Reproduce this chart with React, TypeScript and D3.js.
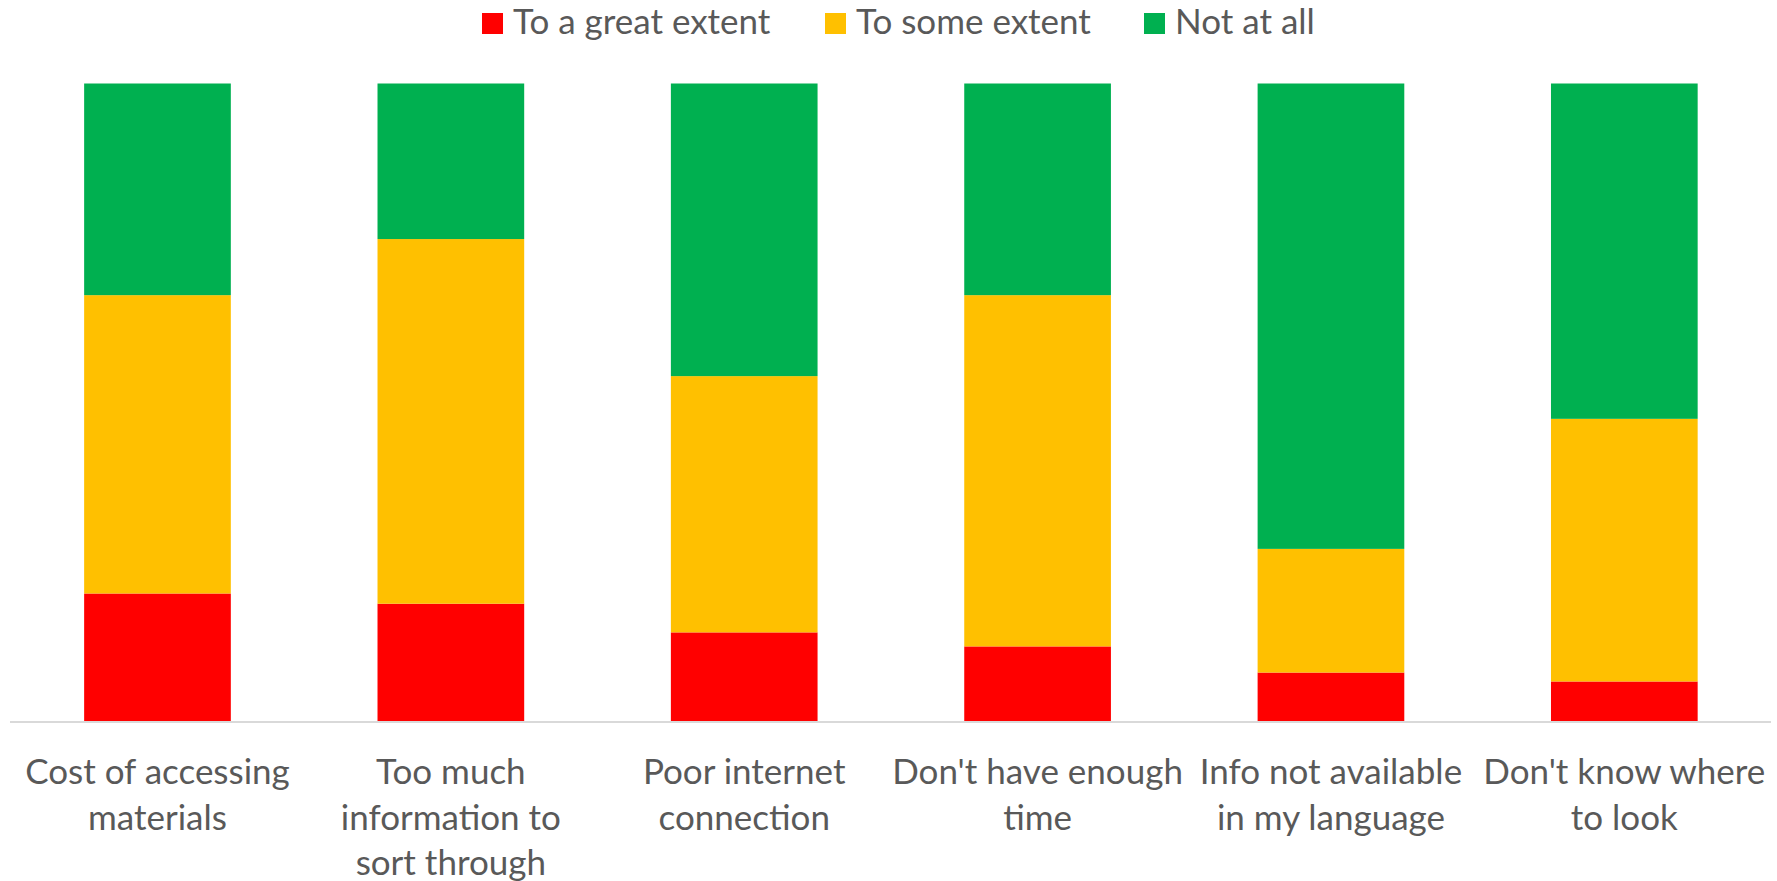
import React from 'react';
import * as d3 from 'd3';

const categories = [
    ['Cost of accessing', 'materials'],
    ['Too much', 'information to', 'sort through'],
    ['Poor internet', 'connection'],
    ["Don't have enough", 'time'],
    ['Info not available', 'in my language'],
    ["Don't know where", 'to look'],
];

const seriesNames = ['To a great extent', 'To some extent', 'Not at all'];
const seriesColors = ['#FF0000', '#FFC000', '#00B050'];

// percentages
const greatExtent = [20.0, 18.4, 13.9, 11.7, 7.6, 6.2];
const someExtent = [46.8, 57.2, 40.2, 55.1, 19.4, 41.2];
const notAtAll = [33.2, 24.4, 45.9, 33.2, 73.0, 52.6];

const W = 1777;
const H = 881;
const FONT = 'Lato, "Open Sans", sans-serif';

export default function App() {
    const keys = categories.map((c) => c.join(' '));
    const rows = keys.map((k, i) => ({
        key: k,
        [seriesNames[0]]: greatExtent[i],
        [seriesNames[1]]: someExtent[i],
        [seriesNames[2]]: notAtAll[i],
    }));
    const stacked = d3.stack().keys(seriesNames).offset(d3.stackOffsetExpand)(rows);

    const x = d3.scaleBand()
        .domain(keys)
        .range([10.8, 1771])
        .paddingInner(0.5)
        .paddingOuter(0.25);

    const y = d3.scaleLinear()
        .domain([0, 1])
        .range([721, 83.5]);

    const legendX = [482, 825, 1144];

    return (
        <div style={{ position: 'absolute', left: 0, top: 0 }}>
            <svg width={W} height={H} style={{ display: 'block', background: '#fff' }}>
                {stacked.map((s, si) => (
                    <g key={s.key} fill={seriesColors[si]}>
                        {s.map((d, i) => (
                            <rect
                                key={i}
                                x={x(keys[i])}
                                width={x.bandwidth()}
                                y={y(d[1])}
                                height={y(d[0]) - y(d[1])}
                            />
                        ))}
                    </g>
                ))}
                <line x1={10} x2={1771} y1={722} y2={722} stroke="#D9D9D9" strokeWidth={2} />

                {categories.map((lines, i) => (
                    <text
                        key={i}
                        x={x(keys[i]) + x.bandwidth() / 2}
                        y={784}
                        textAnchor="middle"
                        fill="#595959"
                        fontFamily={FONT}
                        fontSize={35}
                    >
                        {lines.map((t, j) => (
                            <tspan key={j} x={x(keys[i]) + x.bandwidth() / 2} dy={j === 0 ? 0 : 45.5}>
                                {t}
                            </tspan>
                        ))}
                    </text>
                ))}

                {seriesNames.map((n, i) => (
                    <g key={n} transform={`translate(${legendX[i]}, 0)`}>
                        <rect x={0} y={13} width={21} height={21} fill={seriesColors[i]} />
                        <text x={31} y={33.7} fill="#595959" fontFamily={FONT} fontSize={35}>
                            {n}
                        </text>
                    </g>
                ))}
            </svg>
        </div>
    );
}
